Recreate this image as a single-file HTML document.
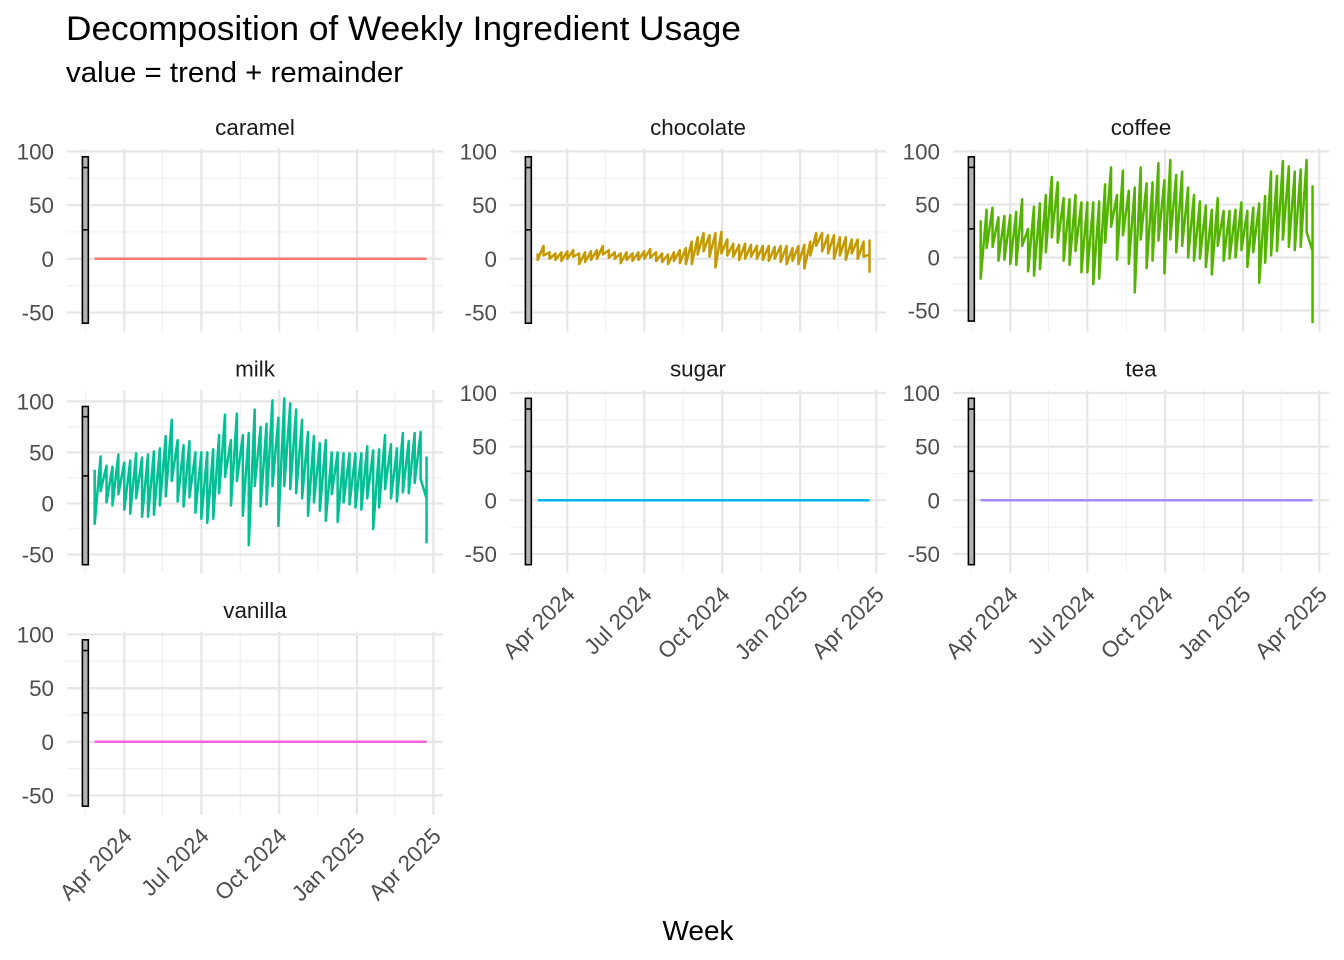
<!DOCTYPE html>
<html><head><meta charset="utf-8"><title>Decomposition of Weekly Ingredient Usage</title>
<style>html,body{margin:0;padding:0;background:#fff}svg{display:block}text{font-family:"Liberation Sans",Arial,sans-serif}</style>
</head><body>
<svg id="chart" width="1344" height="960" viewBox="0 0 1344 960" xmlns="http://www.w3.org/2000/svg">
<text x="66" y="40" font-size="34.5" fill="#000" textLength="675" lengthAdjust="spacingAndGlyphs">Decomposition of Weekly Ingredient Usage</text>
<text x="66" y="82" font-size="28.5" fill="#000" textLength="337" lengthAdjust="spacingAndGlyphs">value = trend + remainder</text>
<text x="698" y="940" font-size="28" text-anchor="middle" fill="#000">Week</text>
</svg>
<script>
// ---- data ----
const ingredients = ["caramel","chocolate","coffee","milk","sugar","tea","vanilla"];
const seriesColors = ["#F8766D","#C49A00","#53B400","#00C094","#00B6EB","#A58AFF","#FB61D7"];
const firstWeek = "2024-02-26";
const weekCount = 57;
const yTicks = [-50, 0, 50, 100];
const yMinorTicks = [-25, 25, 75];
const xTickDates = ["2024-04-01","2024-07-01","2024-10-01","2025-01-01","2025-04-01"];
const xTickLabels = ["Apr 2024","Jul 2024","Oct 2024","Jan 2025","Apr 2025"];
const xMinorDates = ["2024-02-15","2024-05-16","2024-08-16","2024-11-16","2025-02-15"];
// range bar (reference glyph)
const barDate = "2024-02-15";
const barValues = [-60, 27, 85, 95];
// per-week observations (each week: values in plotted order)
const chocolateVals = [[5,-1],[12,3],[6,0],[5,-1],[6,-2],[7,0],[8,2],[5,-5],[6,-3],[7,-1],[8,0],[12,4],[8,1],[6,0],[5,-4],[6,-1],[5,-2],[6,-1],[7,0],[9,1],[6,-2],[5,-3],[4,-5],[6,-2],[8,-4],[10,-5],[16,-5],[20,4],[24,7],[22,2],[24,-8],[25,5],[18,3],[14,2],[13,-1],[14,0],[13,2],[12,0],[12,-1],[12,-2],[11,0],[12,-3],[12,-5],[10,-2],[12,-5],[13,-9],[16,3],[24,12],[24,7],[22,5],[22,0],[20,3],[20,-1],[18,5],[18,0],[16,2],[4,17,-13]];
const coffeeVals = [[35,-20],[45,9],[47,10],[38,-3],[39,-2],[40,-6],[43,-7],[55,11],[27,-13],[48,-17],[51,-11],[59,5],[76,19],[71,14],[56,-3],[55,-7],[59,6],[52,-14],[52,-14],[52,-25],[53,-20],[69,14],[85,29],[59,-2],[82,21],[63,-6],[66,-33],[85,17],[70,-10],[71,-3],[89,16],[73,-15],[92,17],[78,5],[81,11],[66,0],[59,-3],[53,-1],[49,-9],[45,-16],[56,11],[44,-3],[44,-1],[45,0],[52,7],[44,-9],[47,5],[51,-24],[58,-5],[81,2],[77,6],[91,17],[86,10],[81,7],[83,10],[92,24],[6,67,-62]];
const milkVals = [[33,-20],[46,12],[37,1],[36,-2],[48,9],[40,-6],[42,-10],[49,5],[45,-13],[48,-13],[51,-11],[54,-2],[66,7],[82,22],[62,2],[57,-3],[61,6],[50,-9],[50,-15],[50,-19],[53,-15],[67,10],[87,26],[62,-2],[88,22],[67,-12],[69,-41],[92,17],[75,-3],[78,-1],[101,17],[84,-22],[103,17],[98,14],[92,10],[82,5],[70,-12],[66,1],[59,-7],[62,-17],[50,9],[50,-18],[49,1],[49,-1],[49,-4],[49,-6],[56,5],[52,-25],[53,-4],[67,14],[58,5],[54,2],[69,11],[61,10],[69,20],[70,24],[5,45,-39]];
const zeroVals = [];
for (let i = 0; i < weekCount; i++) zeroVals.push([0]);
const seriesData = [zeroVals, chocolateVals, coffeeVals, milkVals, zeroVals, zeroVals, zeroVals];

// ---- layout ----
const svg = document.getElementById('chart');
const NS = 'http://www.w3.org/2000/svg';
const colLeft = [67, 510, 953], panelW = 376;
const rowTop = [148.5, 390, 631.5], panelH = 183;
const APR1 = Date.UTC(2024, 3, 1);
function dayOf(s){ const p = s.split('-').map(Number); return (Date.UTC(p[0], p[1]-1, p[2]) - APR1) / 86400000; }
function xScale(left, day){ return left + 57.3 + day * 0.8466; }
function mk(tag, attrs){ const e = document.createElementNS(NS, tag); for (const k in attrs) e.setAttribute(k, attrs[k]); return e; }

ingredients.forEach((name, idx) => {
  const col = idx % 3, row = Math.floor(idx / 3);
  const left = colLeft[col], top = rowTop[row];
  const weeks = seriesData[idx];
  let lo = Math.min(...barValues), hi = Math.max(...barValues);
  weeks.forEach(w => w.forEach(v => { lo = Math.min(lo, v); hi = Math.max(hi, v); }));
  const pad = (hi - lo) * 0.05;
  const yScale = v => top + (hi + pad - v) / (hi - lo + 2 * pad) * panelH;

  const g = mk('g', {});
  
  
  svg.appendChild(g);

  yMinorTicks.forEach(t => {
    const l = mk('line', {x1: left, x2: left + panelW, y1: yScale(t), y2: yScale(t), stroke: '#f0f0f0', 'stroke-width': 1.2});
    
    
    g.appendChild(l);
  });
  xMinorDates.forEach(d => {
    const x = xScale(left, dayOf(d));
    const l = mk('line', {x1: x, x2: x, y1: top, y2: top + panelH, stroke: '#f0f0f0', 'stroke-width': 1.2});
    
    
    g.appendChild(l);
  });
  yTicks.forEach(t => {
    const y = yScale(t);
    const l = mk('line', {x1: left, x2: left + panelW, y1: y, y2: y, stroke: '#e6e6e6', 'stroke-width': 2.2});
    
    
    g.appendChild(l);
    const tx = mk('text', {x: left - 13, y: y + 8, 'font-size': 22.4, 'text-anchor': 'end', fill: '#4d4d4d'});
    tx.textContent = String(t);
    
    
    g.appendChild(tx);
  });
  xTickDates.forEach((d, i) => {
    const x = xScale(left, dayOf(d));
    const l = mk('line', {x1: x, x2: x, y1: top, y2: top + panelH, stroke: '#e6e6e6', 'stroke-width': 2.2});
    
    
    g.appendChild(l);
    const hasLabels = (row === 2) || (row === 1 && col > 0);
    if (hasLabels) {
      const ax = x + 9, ay = top + panelH + 23;
      const tx = mk('text', {x: 0, y: 0, 'font-size': 22.4, 'text-anchor': 'end', fill: '#4d4d4d', transform: 'translate(' + ax + ',' + ay + ') rotate(-45)'});
      tx.textContent = xTickLabels[i];
      
      
      g.appendChild(tx);
    }
  });

  const strip = mk('text', {x: left + panelW / 2, y: top - 13.5, 'font-size': 22.4, 'text-anchor': 'middle', fill: '#1a1a1a'});
  strip.textContent = name;
  
  
  g.appendChild(strip);

  // range bar
  const bd = dayOf(barDate);
  const bx1 = xScale(left, bd - 3.5), bx2 = xScale(left, bd + 3.5);
  const bar = mk('rect', {x: bx1, y: yScale(barValues[3]), width: bx2 - bx1, height: yScale(barValues[0]) - yScale(barValues[3]), fill: '#b3b3b3', stroke: '#000', 'stroke-width': 1.6});
  
  
  g.appendChild(bar);
  [barValues[1], barValues[2]].forEach(v => {
    const l = mk('line', {x1: bx1, x2: bx2, y1: yScale(v), y2: yScale(v), stroke: '#000', 'stroke-width': 1.6});
    
    
    g.appendChild(l);
  });

  // series line
  const d0 = dayOf(firstWeek);
  const pts = [];
  weeks.forEach((w, i) => {
    const x = xScale(left, d0 + i * 7);
    w.forEach(v => pts.push(x.toFixed(2) + ',' + yScale(v).toFixed(2)));
  });
  const pl = mk('polyline', {points: pts.join(' '), fill: 'none', stroke: seriesColors[idx], 'stroke-width': 2.5, 'stroke-linejoin': 'round'});
  
  
  g.appendChild(pl);
});
</script>
</body></html>
